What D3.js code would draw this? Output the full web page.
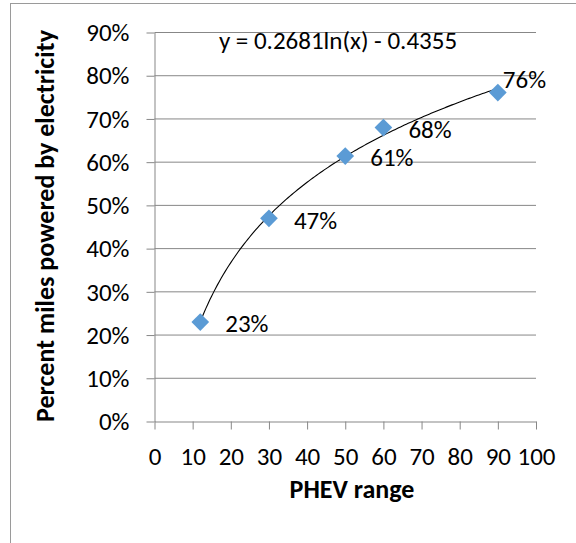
<!DOCTYPE html>
<html>
<head>
<meta charset="utf-8">
<script src="https://cdn.jsdelivr.net/npm/d3@7"></script>
<style>
  html, body { margin: 0; padding: 0; background: #fff; }
  svg { display: block; }
  text { font-family: Carlito, Calibri, Lato, "Open Sans", sans-serif; fill: #000; }
</style>
</head>
<body>
<svg id="chart" width="576" height="543"></svg>
<script>
// PHEV electric range vs. share of miles driven on electricity
const rangeMiles = [12, 30, 50, 60, 90];
const electricShare = [0.23, 0.47, 0.614, 0.68, 0.761];
const xTicks = [0, 10, 20, 30, 40, 50, 60, 70, 80, 90, 100];
const yTicks = [0, 0.1, 0.2, 0.3, 0.4, 0.5, 0.6, 0.7, 0.8, 0.9];
// logarithmic trendline y = a*ln(x) + b
const trendA = 0.2681;
const trendB = -0.4355;
const trendLabel = "y = 0.2681ln(x) - 0.4355";
const xTitle = "PHEV range";
const yTitle = "Percent miles powered by electricity";

const svg = d3.select("#chart");
const W = 576, H = 543;

const plot = { left: 154.5, right: 536, top: 32.5, bottom: 421.5 };
const x = d3.scaleLinear().domain([0, 100]).range([plot.left, plot.right]);
const y = d3.scaleLinear().domain([0, 0.9]).range([plot.bottom, plot.top]);

const axisGray = "#878787";
const fontSize = 25;
const titleSize = 26;

// chart area frame
svg.append("rect")
  .attr("x", 10.5).attr("y", 3.5)
  .attr("width", W + 20).attr("height", H + 20)
  .attr("fill", "#fff").attr("stroke", "#9a9a9a").attr("stroke-width", 1);

// horizontal gridlines
svg.append("g").selectAll("line")
  .data(yTicks.filter(d => d > 0))
  .join("line")
  .attr("x1", plot.left).attr("x2", plot.right)
  .attr("y1", d => y(d)).attr("y2", d => y(d))
  .attr("stroke", axisGray).attr("stroke-width", 1);

// y axis
const yAxis = svg.append("g")
  .attr("transform", `translate(${plot.left},0)`)
  .call(d3.axisLeft(y).tickValues(yTicks).tickSize(8).tickSizeOuter(0)
    .tickFormat(d3.format(".0%")).tickPadding(17));
yAxis.select(".domain").attr("stroke", axisGray);
yAxis.selectAll(".tick line").attr("stroke", axisGray);
yAxis.selectAll(".tick text")
  .attr("font-size", fontSize)
  .attr("font-family", null)
  .attr("dy", "0.33em")
  .attr("fill", "#000");

// x axis
const xAxis = svg.append("g")
  .attr("transform", `translate(0,${plot.bottom})`)
  .call(d3.axisBottom(x).tickValues(xTicks).tickSize(8).tickSizeOuter(0)
    .tickFormat(d3.format("d")).tickPadding(18));
xAxis.select(".domain").attr("stroke", axisGray);
xAxis.selectAll(".tick line").attr("stroke", axisGray);
xAxis.selectAll(".tick text")
  .attr("font-size", fontSize)
  .attr("font-family", null)
  .attr("dy", "0.71em")
  .attr("fill", "#000");

// trendline over the range of the data
const trendXs = d3.range(d3.min(rangeMiles), d3.max(rangeMiles) + 0.001, 0.5);
const line = d3.line()
  .x(d => x(d))
  .y(d => y(trendA * Math.log(d) + trendB))
  .curve(d3.curveLinear);
svg.append("path")
  .datum(trendXs)
  .attr("d", line)
  .attr("fill", "none")
  .attr("stroke", "#000")
  .attr("stroke-width", 1.1);

// diamond markers
const diamond = d3.symbol().type(d3.symbolDiamond2).size(200);
const pts = rangeMiles.map((r, i) => ({ r, v: electricShare[i] }));
svg.append("g").selectAll("path")
  .data(pts)
  .join("path")
  .attr("d", diamond)
  .attr("transform", d => `translate(${x(d.r)},${y(d.v)})`)
  .attr("fill", "#5b9bd5");

// value labels, to the right of each marker; the last one sits above-left to stay inside
svg.append("g").selectAll("text")
  .data(pts)
  .join("text")
  .attr("x", (d, i) => x(d.r) + (i === pts.length - 1 ? 5 : 25))
  .attr("y", (d, i) => y(d.v) + (i === pts.length - 1 ? -13 : 2))
  .attr("dy", "0.33em")
  .attr("font-size", fontSize)
  .text(d => d3.format(".0%")(d.v));

// trendline equation
svg.append("text")
  .attr("x", 338).attr("y", 41)
  .attr("dy", "0.33em")
  .attr("text-anchor", "middle")
  .attr("font-size", fontSize)
  .text(trendLabel);

// axis titles
svg.append("text")
  .attr("x", 352).attr("y", 489)
  .attr("dy", "0.33em")
  .attr("text-anchor", "middle")
  .attr("font-size", titleSize)
  .attr("font-weight", "bold")
  .text(xTitle);

svg.append("text")
  .attr("transform", "translate(45,226) rotate(-90)")
  .attr("dy", "0.33em")
  .attr("text-anchor", "middle")
  .attr("font-size", titleSize)
  .attr("font-weight", "bold")
  .text(yTitle);
</script>
</body>
</html>
